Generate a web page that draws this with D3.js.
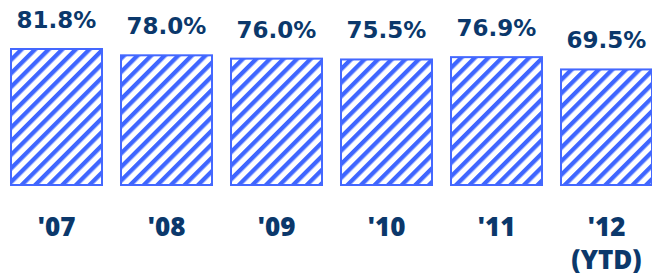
<!DOCTYPE html>
<html><head><meta charset="utf-8">
<script src="https://d3js.org/d3.v7.min.js"></script>
<style>body{margin:0;background:#fff}svg{display:block}</style>
</head><body>
<script>
const categories = ["'07", "'08", "'09", "'10", "'11", "'12"];
const subLabels = ["", "", "", "", "", "(YTD)"];
const values = [81.8, 78.0, 76.0, 75.5, 76.9, 69.5];
const valueLabels = ["81.8%", "78.0%", "76.0%", "75.5%", "76.9%", "69.5%"];

const W = 652, H = 277;
const svg = d3.select("body").append("svg").attr("width", W).attr("height", H);
const defs = svg.append("defs");
const P = 9.6;
const pat = defs.append("pattern").attr("id", "hatch").attr("patternUnits", "userSpaceOnUse")
  .attr("width", P).attr("height", P).attr("patternTransform", "rotate(45)");
pat.append("rect").attr("width", P).attr("height", P).attr("fill", "#fff");
pat.append("rect").attr("x", 0).attr("y", 0).attr("width", 4.3).attr("height", P).attr("fill", "#3f66ff");

const x = d3.scaleBand().domain(categories).range([11, 652]).paddingInner(19 / 110).paddingOuter(0);
const y = d3.scaleLinear().domain([0, 100]).range([185, 185 - 166.26]);

const textColor = "#0b386b";

svg.selectAll("rect.bar").data(values).join("rect").attr("class", "bar")
  .attr("x", (d, i) => x(categories[i]))
  .attr("y", d => y(d))
  .attr("width", x.bandwidth())
  .attr("height", d => y(0) - y(d))
  .attr("fill", "url(#hatch)")
  .attr("stroke", "#4468ff").attr("stroke-width", 2);

svg.selectAll("text.val").data(values).join("text").attr("class", "val")
  .attr("x", (d, i) => x(categories[i]) + x.bandwidth() / 2)
  .attr("y", d => y(d) - 21)
  .attr("text-anchor", "middle")
  .attr("font-family", "'DejaVu Sans', sans-serif").attr("font-weight", "bold").attr("font-size", 23)
  .attr("fill", textColor)
  .text((d, i) => valueLabels[i]);

const xFont = "'Open Sans', sans-serif";
const xAxis = d3.axisBottom(x).tickSize(0).tickPadding(0);
const ax = svg.append("g").attr("transform", "translate(0,236)").call(xAxis);
ax.select(".domain").remove();
ax.selectAll("text").attr("font-family", xFont).attr("font-weight", 800).attr("font-size", 26)
  .attr("fill", textColor).attr("dy", 0);
ax.selectAll(".tick").each(function(d, i) {
  if (subLabels[i]) {
    d3.select(this).append("text").attr("y", 33).attr("text-anchor", "middle")
      .attr("font-family", xFont).attr("font-weight", 800).attr("font-size", 26)
      .attr("fill", textColor).text(subLabels[i]);
  }
});
</script>
</body></html>
